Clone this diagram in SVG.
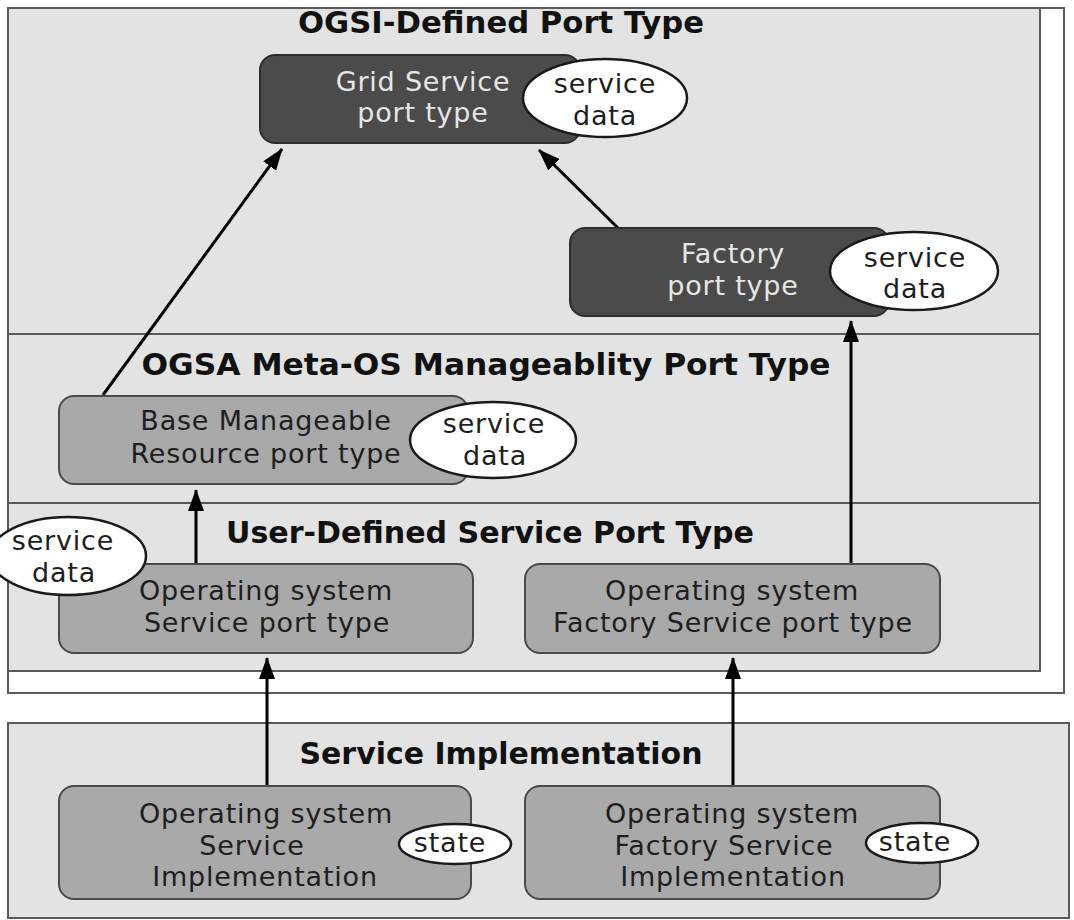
<svg xmlns="http://www.w3.org/2000/svg" width="1074" height="920" viewBox="0 0 1074 920">
  <style>
    .frame { fill: #ffffff; stroke: #5a5a5a; stroke-width: 2; }
    .panel { fill: #e3e3e3; stroke: #5a5a5a; stroke-width: 2; }
    .title { font-family: "DejaVu Sans", "Liberation Sans", sans-serif; font-weight: bold; font-size: 30px; fill: #111; text-anchor: middle; }
    .dark { fill: #4b4b4b; stroke: #2e2e2e; stroke-width: 2; }
    .light { fill: #a9a9a9; stroke: #4a4a4a; stroke-width: 2; }
    .bubble { fill: #ffffff; stroke: #1a1a1a; stroke-width: 2.5; }
    .lbl { font-family: "DejaVu Sans", "Liberation Sans", sans-serif; font-size: 27px; letter-spacing: 0.8px; text-anchor: middle; }
    .on-dark { fill: #e6e6e6; }
    .on-light { fill: #1e1e1e; }
    .edge { stroke: #000; stroke-width: 3; fill: none; marker-end: url(#head); }
  </style>
  <defs>
    <marker id="head" viewBox="0 0 22 16" refX="21" refY="8" markerWidth="22" markerHeight="16" markerUnits="userSpaceOnUse" orient="auto">
      <path d="M0,0 L22,8 L0,16 Z" fill="#000"/>
    </marker>
  </defs>

  <!-- outer frame around the port-type layers -->
  <rect class="frame" x="8" y="8" width="1056" height="685"/>

  <!-- layer bands -->
  <rect class="panel" x="8" y="8" width="1032" height="326"/>
  <rect class="panel" x="8" y="334" width="1032" height="169"/>
  <rect class="panel" x="8" y="503" width="1032" height="168"/>
  <rect class="panel" x="8" y="723" width="1061" height="195"/>

  <text class="title" x="501" y="33" textLength="406" lengthAdjust="spacingAndGlyphs">OGSI-Defined Port Type</text>
  <text class="title" x="486" y="375" textLength="689" lengthAdjust="spacingAndGlyphs">OGSA Meta-OS Manageablity Port Type</text>
  <text class="title" x="490" y="543" textLength="528" lengthAdjust="spacingAndGlyphs">User-Defined Service Port Type</text>
  <text class="title" x="501" y="764" textLength="403" lengthAdjust="spacingAndGlyphs">Service Implementation</text>

  <!-- connectors -->
  <g id="connectors">
    <line class="edge" x1="103" y1="395" x2="282" y2="149"/>
    <line class="edge" x1="618" y1="228" x2="539" y2="150"/>
    <line class="edge" x1="196" y1="563" x2="196" y2="490"/>
    <line class="edge" x1="851" y1="563" x2="851" y2="321"/>
    <line class="edge" x1="267" y1="786" x2="267" y2="658"/>
    <line class="edge" x1="733" y1="786" x2="733" y2="658"/>
  </g>

  <g id="grid-service">
    <rect class="dark" x="260" y="55" width="320" height="88" rx="15"/>
    <text class="lbl on-dark" x="423" y="91">Grid Service</text>
    <text class="lbl on-dark" x="423" y="122">port type</text>
    <ellipse class="bubble" cx="605" cy="98" rx="82" ry="39"/>
    <text class="lbl on-light" x="605" y="93">service</text>
    <text class="lbl on-light" x="605" y="125">data</text>
  </g>

  <g id="factory">
    <rect class="dark" x="570" y="228" width="319" height="88" rx="15"/>
    <text class="lbl on-dark" x="733" y="263">Factory</text>
    <text class="lbl on-dark" x="733" y="295">port type</text>
    <ellipse class="bubble" cx="914" cy="271" rx="84" ry="39"/>
    <text class="lbl on-light" x="915" y="267">service</text>
    <text class="lbl on-light" x="915" y="298">data</text>
  </g>

  <g id="base-manageable">
    <rect class="light" x="59" y="396" width="409" height="88" rx="15"/>
    <text class="lbl on-light" x="266" y="430">Base Manageable</text>
    <text class="lbl on-light" x="266" y="463">Resource port type</text>
    <ellipse class="bubble" cx="493" cy="440" rx="83" ry="38"/>
    <text class="lbl on-light" x="494" y="433">service</text>
    <text class="lbl on-light" x="495" y="465">data</text>
  </g>

  <g id="os-service">
    <rect class="light" x="59" y="564" width="414" height="89" rx="15"/>
    <text class="lbl on-light" x="266" y="600">Operating system</text>
    <text class="lbl on-light" x="267" y="632">Service port type</text>
    <ellipse class="bubble" cx="68" cy="556" rx="78" ry="39"/>
    <text class="lbl on-light" x="63" y="550">service</text>
    <text class="lbl on-light" x="64" y="582">data</text>
  </g>

  <g id="os-factory-service">
    <rect class="light" x="525" y="564" width="415" height="89" rx="15"/>
    <text class="lbl on-light" x="732" y="600">Operating system</text>
    <text class="lbl on-light" x="733" y="632">Factory Service port type</text>
  </g>

  <g id="os-service-impl">
    <rect class="light" x="59" y="786" width="412" height="113" rx="15"/>
    <text class="lbl on-light" x="266" y="823">Operating system</text>
    <text class="lbl on-light" x="252" y="855">Service</text>
    <text class="lbl on-light" x="265" y="886">Implementation</text>
    <ellipse class="bubble" cx="455" cy="844" rx="56" ry="20"/>
    <text class="lbl on-light" x="450" y="852">state</text>
  </g>

  <g id="os-factory-impl">
    <rect class="light" x="525" y="786" width="415" height="113" rx="15"/>
    <text class="lbl on-light" x="732" y="823">Operating system</text>
    <text class="lbl on-light" x="724" y="855">Factory Service</text>
    <text class="lbl on-light" x="733" y="886">Implementation</text>
    <ellipse class="bubble" cx="922" cy="843" rx="56" ry="20"/>
    <text class="lbl on-light" x="915" y="851">state</text>
  </g>
</svg>
